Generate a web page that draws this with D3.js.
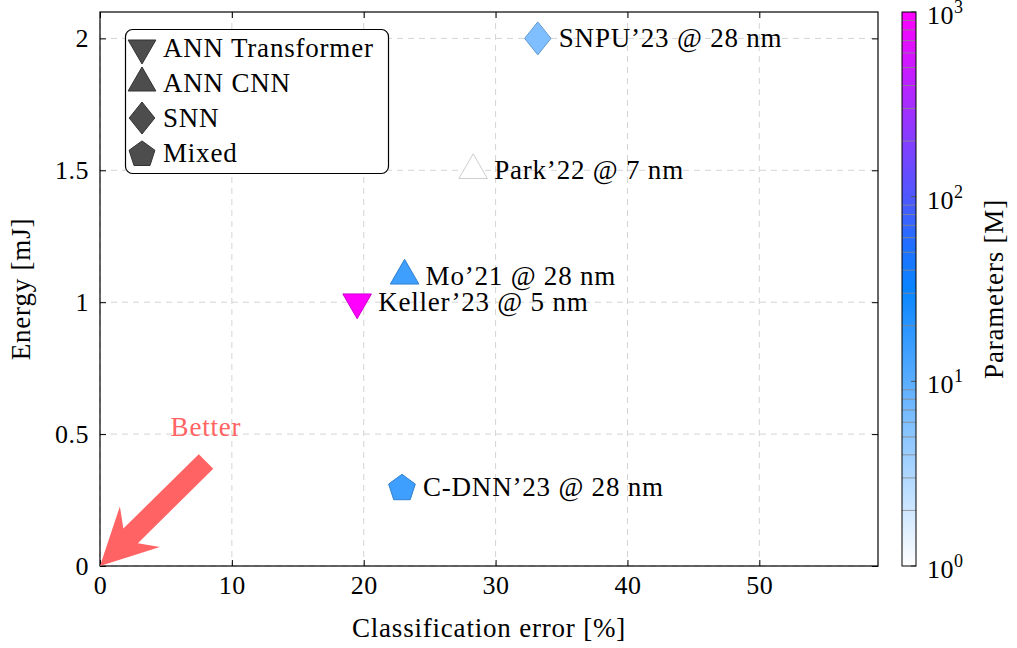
<!DOCTYPE html>
<html lang="en">
<head>
	<meta charset="utf-8">
	<title>Energy vs classification error</title>
	<script src="https://cdn.jsdelivr.net/npm/d3@7"></script>
	<style>
		body { margin: 0; background: #fff; }
		text { font-family: "Liberation Serif", "Times New Roman", serif; fill: #000; }
		.grid line { stroke: #d4d4d4; stroke-dasharray: 6,5; }
		.lbl { font-size: 27px; letter-spacing: 0.8px; }
		.tick-label { font-size: 26px; letter-spacing: 0.5px; }
	</style>
</head>
<body>
<script>
	// data
	var names = ["SNPU\u201923 @ 28 nm", "Park\u201922 @ 7 nm", "Mo\u201921 @ 28 nm", "Keller\u201923 @ 5 nm", "C-DNN\u201923 @ 28 nm"];
	var errors = [33.2, 28.3, 23.1, 19.5, 22.9];
	var energies = [2.0, 1.5, 1.1, 1.0, 0.3];
	var params = [6, 1, 15, 1000, 15];
	var kinds = ["SNN", "ANN CNN", "ANN CNN", "ANN Transformer", "Mixed"];

	var legendKinds = ["ANN Transformer", "ANN CNN", "SNN", "Mixed"];
	var xTicks = [0, 10, 20, 30, 40, 50];
	var yTicks = [0, 0.5, 1, 1.5, 2];
	var yTickLabels = ["0", "0.5", "1", "1.5", "2"];
	var cbTicks = [1, 10, 100, 1000];
	var cbExps = ["0", "1", "2", "3"];

	var w = 1017, h = 648;
	var padL = 100, padR = 878, padT = 12, padB = 566;

	var svg = d3.select("body").append("svg")
		.attr("width", w)
		.attr("height", h);

	var xScale = d3.scaleLinear().domain([0, 59]).range([padL, padR]);
	var yScale = d3.scaleLinear().domain([0, 2.1]).range([padB, padT]);

	// colormap on log10 of parameters
	var cmap = d3.scaleLinear().domain([0, 1.55, 3]).range(["#ffffff", "#0080ff", "#ff00ff"]);
	var cScale = d3.scaleLog().domain([1, 1000]).range([padB, padT]);
	function colorOf(v) { return cmap(Math.log10(v)); }

	// grid
	var grid = svg.append("g").attr("class", "grid");
	grid.selectAll(".gx").data(xTicks).enter().append("line")
		.attr("x1", function (d) { return xScale(d); })
		.attr("x2", function (d) { return xScale(d); })
		.attr("y1", padT).attr("y2", padB);
	grid.selectAll(".gy").data(yTicks).enter().append("line")
		.attr("y1", function (d) { return yScale(d); })
		.attr("y2", function (d) { return yScale(d); })
		.attr("x1", padL).attr("x2", padR);

	// axes with inward ticks
	var xAxis = d3.axisBottom(xScale).tickValues(xTicks).tickSize(-6).tickPadding(10).tickFormat(d3.format("d"));
	var xAxisTop = d3.axisTop(xScale).tickValues(xTicks).tickSize(-6).tickFormat("");
	var yAxis = d3.axisLeft(yScale).tickValues(yTicks).tickSize(-6).tickPadding(11)
		.tickFormat(function (d, i) { return yTickLabels[i]; });
	var yAxisRight = d3.axisRight(yScale).tickValues(yTicks).tickSize(-6).tickFormat("");

	function styleAxis(g) {
		g.select(".domain").remove();
		g.selectAll("line").attr("stroke", "#000");
		g.selectAll("text").attr("class", "tick-label").attr("fill", "#000")
			.style("font-family", "'Liberation Serif', serif");
	}
	svg.append("g").attr("transform", "translate(0," + padB + ")").call(xAxis).call(styleAxis);
	svg.append("g").attr("transform", "translate(0," + padT + ")").call(xAxisTop).call(styleAxis);
	svg.append("g").attr("transform", "translate(" + padL + ",0)").call(yAxis).call(styleAxis);
	svg.append("g").attr("transform", "translate(" + padR + ",0)").call(yAxisRight).call(styleAxis);

	svg.append("rect")
		.attr("x", padL).attr("y", padT)
		.attr("width", padR - padL).attr("height", padB - padT)
		.attr("fill", "none").attr("stroke", "#000").attr("stroke-width", 1.2);

	// marker shapes
	function shapePath(kind, r) {
		var pts = [];
		if (kind === "ANN CNN") {
			[90, 210, 330].forEach(function (a) { pts.push([r * Math.cos(a * Math.PI / 180), -r * Math.sin(a * Math.PI / 180)]); });
		} else if (kind === "ANN Transformer") {
			[270, 30, 150].forEach(function (a) { pts.push([r * Math.cos(a * Math.PI / 180), -r * Math.sin(a * Math.PI / 180)]); });
		} else if (kind === "SNN") {
			pts = [[0, -r], [r * 0.8, 0], [0, r], [-r * 0.8, 0]];
		} else {
			var rp = r * 0.85;
			[90, 162, 234, 306, 18].forEach(function (a) { pts.push([rp * Math.cos(a * Math.PI / 180), -rp * Math.sin(a * Math.PI / 180) + 1.5]); });
		}
		return "M" + pts.map(function (p) { return p[0].toFixed(2) + "," + p[1].toFixed(2); }).join("L") + "Z";
	}

	// arrow "Better"
	var ax0 = xScale(8.04), ay0 = yScale(0.396), ax1 = xScale(0), ay1 = yScale(0);
	var dx = ax1 - ax0, dy = ay1 - ay0, L = Math.sqrt(dx * dx + dy * dy);
	var ux = dx / L, uy = dy / L, nx = -uy, ny = ux;
	var sw = 10.3, headBack = 56, notchBack = 43, barb = 28.5;
	function P(along, side) { return [ax0 + ux * along + nx * side, ay0 + uy * along + ny * side]; }
	var arrowPts = [P(0, sw), P(L - notchBack, sw), P(L - headBack, barb), P(L, 0), P(L - headBack, -barb), P(L - notchBack, -sw), P(0, -sw)];
	svg.append("path")
		.attr("d", "M" + arrowPts.map(function (p) { return p.join(","); }).join("L") + "Z")
		.attr("fill", "#ff6363");
	svg.append("text")
		.attr("class", "lbl")
		.attr("x", 206).attr("y", 436)
		.attr("text-anchor", "middle")
		.style("fill", "#ff6363")
		.text("Better");

	// points
	var pts = svg.append("g");
	names.forEach(function (n, i) {
		var cx = xScale(errors[i]), cy = yScale(energies[i]);
		var fill = colorOf(params[i]);
		pts.append("path")
			.attr("d", shapePath(kinds[i], 16.5))
			.attr("transform", "translate(" + cx + "," + cy + ")")
			.attr("fill", fill)
			.attr("stroke", d3.color(fill).darker(0.6))
			.attr("stroke-width", 1);
		pts.append("text")
			.attr("class", "lbl")
			.attr("x", cx + 21).attr("y", cy + 9)
			.text(n);
	});

	// legend
	var lg = svg.append("g");
	lg.append("rect")
		.attr("x", 125.5).attr("y", 29.5)
		.attr("width", 263).attr("height", 144)
		.attr("rx", 7)
		.attr("fill", "#fff").attr("stroke", "#000").attr("stroke-width", 1.2);
	legendKinds.forEach(function (k, i) {
		var yy = 48 + i * 35;
		lg.append("path")
			.attr("d", shapePath(k, 16))
			.attr("transform", "translate(142," + yy + ")")
			.attr("fill", "#4d4d4d").attr("stroke", "#333");
		lg.append("text")
			.attr("class", "lbl")
			.attr("x", 163).attr("y", yy + 9)
			.text(k);
	});

	// axis titles
	svg.append("text")
		.attr("class", "lbl")
		.attr("x", (padL + padR) / 2).attr("y", 637)
		.attr("text-anchor", "middle")
		.text("Classification error [%]");
	svg.append("text")
		.attr("class", "lbl")
		.attr("transform", "translate(30," + (padT + padB) / 2 + ") rotate(-90)")
		.attr("text-anchor", "middle")
		.text("Energy [mJ]");

	// colorbar
	var cbx = 902, cbw = 14;
	var defs = svg.append("defs");
	var grad = defs.append("linearGradient").attr("id", "cb").attr("x1", 0).attr("y1", 1).attr("x2", 0).attr("y2", 0);
	d3.range(0, 3.01, 0.25).forEach(function (e) {
		grad.append("stop").attr("offset", (e / 3 * 100) + "%").attr("stop-color", cmap(e));
	});
	svg.append("rect")
		.attr("x", cbx).attr("y", padT)
		.attr("width", cbw).attr("height", padB - padT)
		.attr("fill", "url(#cb)");
	var minor = [];
	[1, 10, 100].forEach(function (b) { d3.range(2, 10).forEach(function (m) { minor.push(b * m); }); });
	svg.append("g").selectAll("line").data(minor).enter().append("line")
		.attr("x1", cbx).attr("x2", cbx + cbw)
		.attr("y1", function (d) { return cScale(d); })
		.attr("y2", function (d) { return cScale(d); })
		.attr("stroke", "#888").attr("stroke-width", 0.8);
	svg.append("g").selectAll("line").data(cbTicks).enter().append("line")
		.attr("x1", cbx + cbw - 5).attr("x2", cbx + cbw)
		.attr("y1", function (d) { return cScale(d); })
		.attr("y2", function (d) { return cScale(d); })
		.attr("stroke", "#555");
	svg.append("rect")
		.attr("x", cbx).attr("y", padT)
		.attr("width", cbw).attr("height", padB - padT)
		.attr("fill", "none").attr("stroke", "#000").attr("stroke-width", 1);
	var cbl = svg.append("g").selectAll("text").data(cbTicks).enter().append("text")
		.attr("class", "tick-label")
		.attr("x", 927)
		.attr("y", function (d) { return cScale(d) + 12; });
	cbl.append("tspan").text("10");
	cbl.append("tspan").attr("dy", -11).style("font-size", "18px")
		.text(function (d, i) { return cbExps[i]; });
	svg.append("text")
		.attr("class", "lbl")
		.attr("transform", "translate(1003," + (padT + padB) / 2 + ") rotate(-90)")
		.attr("text-anchor", "middle")
		.text("Parameters [M]");
</script>
</body>
</html>
